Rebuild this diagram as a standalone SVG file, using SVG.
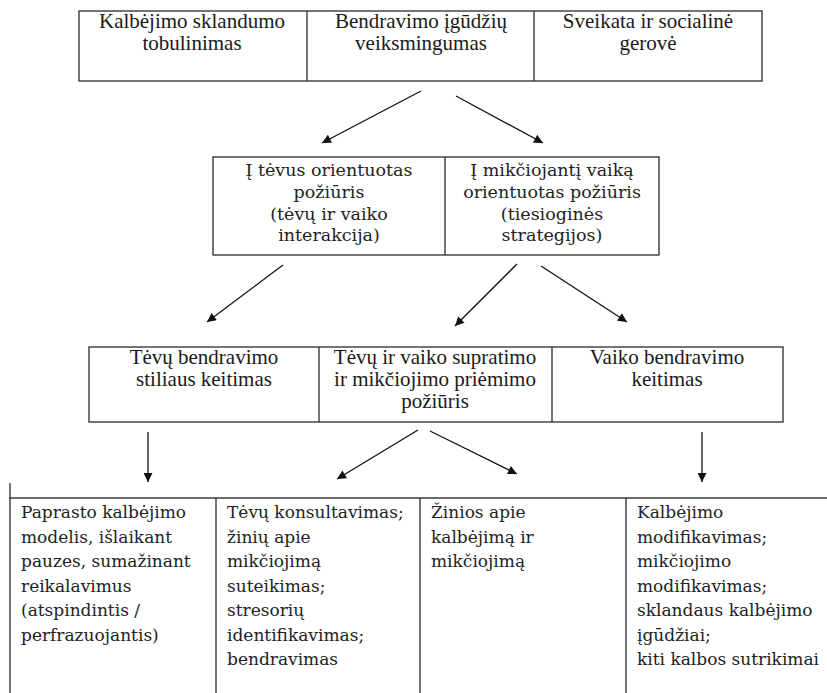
<svg xmlns="http://www.w3.org/2000/svg" width="827" height="693" viewBox="0 0 827 693">
<style>
.box{fill:none;stroke:#3a3a3a;stroke-width:1.4}
.ln{stroke:#3a3a3a;stroke-width:1.4}
.t1{font-family:"Liberation Serif","Times New Roman",serif;font-size:21px;fill:#1a1a1a;text-anchor:middle}
.t2{font-family:"DejaVu Serif",serif;font-size:17.5px;fill:#222;text-anchor:middle}
.t3{font-family:"DejaVu Serif",serif;font-size:17px;fill:#222}
.arr{stroke:#111;stroke-width:1.3;fill:none;marker-end:url(#ah)}
</style>
<defs>
<marker id="ah" viewBox="0 0 10 10" refX="10" refY="5" markerWidth="11" markerHeight="9" markerUnits="userSpaceOnUse" orient="auto">
<path d="M0,0 L10,5 L0,10 Z" fill="#111"/>
</marker>
</defs>
<rect width="827" height="693" fill="#fff"/>

<g id="top-row">
<rect class="box" x="79" y="11" width="683" height="70"/>
<line class="ln" x1="307" y1="11" x2="307" y2="81"/>
<line class="ln" x1="534" y1="11" x2="534" y2="81"/>
</g>
<g id="n-kalbejimo">
<text class="t1" x="192" y="28">Kalbėjimo sklandumo</text>
<text class="t1" x="192" y="50">tobulinimas</text>
</g>
<g id="n-bendravimo">
<text class="t1" x="421" y="28">Bendravimo įgūdžių</text>
<text class="t1" x="421" y="50">veiksmingumas</text>
</g>
<g id="n-sveikata">
<text class="t1" x="648" y="28">Sveikata ir socialinė</text>
<text class="t1" x="648" y="50">gerovė</text>
</g>

<g id="middle-row">
<rect class="box" x="213" y="157" width="446" height="98"/>
<line class="ln" x1="445" y1="157" x2="445" y2="255"/>
</g>
<g id="n-tevus">
<text class="t2" x="329" y="176">Į tėvus orientuotas</text>
<text class="t2" x="329" y="198">požiūris</text>
<text class="t2" x="329" y="219.5">(tėvų ir vaiko</text>
<text class="t2" x="329" y="241">interakcija)</text>
</g>
<g id="n-vaika">
<text class="t2" x="552" y="176">Į mikčiojantį vaiką</text>
<text class="t2" x="552" y="198">orientuotas požiūris</text>
<text class="t2" x="552" y="219.5">(tiesioginės</text>
<text class="t2" x="552" y="241">strategijos)</text>
</g>

<g id="third-row">
<rect class="box" x="89" y="347" width="694" height="75"/>
<line class="ln" x1="319" y1="347" x2="319" y2="422"/>
<line class="ln" x1="552" y1="347" x2="552" y2="422"/>
</g>
<g id="n-tevu-stiliaus">
<text class="t1" x="204" y="364">Tėvų bendravimo</text>
<text class="t1" x="204" y="386">stiliaus keitimas</text>
</g>
<g id="n-supratimo">
<text class="t1" x="435" y="364">Tėvų ir vaiko supratimo</text>
<text class="t1" x="435" y="386">ir mikčiojimo priėmimo</text>
<text class="t1" x="435" y="408">požiūris</text>
</g>
<g id="n-vaiko-keitimas">
<text class="t1" x="667" y="364">Vaiko bendravimo</text>
<text class="t1" x="667" y="386">keitimas</text>
</g>

<g id="bottom-row">
<line class="ln" x1="9" y1="498" x2="827" y2="498"/>
<line class="ln" x1="10" y1="483" x2="10" y2="693"/>
<line class="ln" x1="216" y1="498" x2="216" y2="693"/>
<line class="ln" x1="420" y1="498" x2="420" y2="693"/>
<line class="ln" x1="626" y1="498" x2="626" y2="693"/>
</g>
<g id="n-paprasto">
<text class="t3" x="21" y="518">Paprasto kalbėjimo</text>
<text class="t3" x="21" y="542.5">modelis, išlaikant</text>
<text class="t3" x="21" y="567">pauzes, sumažinant</text>
<text class="t3" x="21" y="591.5">reikalavimus</text>
<text class="t3" x="21" y="616">(atspindintis /</text>
<text class="t3" x="21" y="640.5">perfrazuojantis)</text>
</g>
<g id="n-konsultavimas">
<text class="t3" x="227" y="518">Tėvų konsultavimas;</text>
<text class="t3" x="227" y="542.5">žinių apie</text>
<text class="t3" x="227" y="567">mikčiojimą</text>
<text class="t3" x="227" y="591.5">suteikimas;</text>
<text class="t3" x="227" y="616">stresorių</text>
<text class="t3" x="227" y="640.5">identifikavimas;</text>
<text class="t3" x="227" y="665">bendravimas</text>
</g>
<g id="n-zinios">
<text class="t3" x="431" y="518">Žinios apie</text>
<text class="t3" x="431" y="542.5">kalbėjimą ir</text>
<text class="t3" x="431" y="567">mikčiojimą</text>
</g>
<g id="n-modifikavimas">
<text class="t3" x="637" y="518">Kalbėjimo</text>
<text class="t3" x="637" y="542.5">modifikavimas;</text>
<text class="t3" x="637" y="567">mikčiojimo</text>
<text class="t3" x="637" y="591.5">modifikavimas;</text>
<text class="t3" x="637" y="616">sklandaus kalbėjimo</text>
<text class="t3" x="637" y="640.5">įgūdžiai;</text>
<text class="t3" x="637" y="665">kiti kalbos sutrikimai</text>
</g>

<g id="connectors">
<line class="arr" x1="421" y1="91" x2="322" y2="143"/>
<line class="arr" x1="456" y1="96" x2="543" y2="143"/>
<line class="arr" x1="283" y1="265" x2="207" y2="322"/>
<line class="arr" x1="517" y1="264" x2="455" y2="326"/>
<line class="arr" x1="541" y1="266" x2="627" y2="322"/>
<line class="arr" x1="148" y1="432" x2="148" y2="482"/>
<line class="arr" x1="418" y1="430" x2="337" y2="479"/>
<line class="arr" x1="430" y1="431" x2="517" y2="474"/>
<line class="arr" x1="702" y1="432" x2="702" y2="482"/>
</g>
</svg>
